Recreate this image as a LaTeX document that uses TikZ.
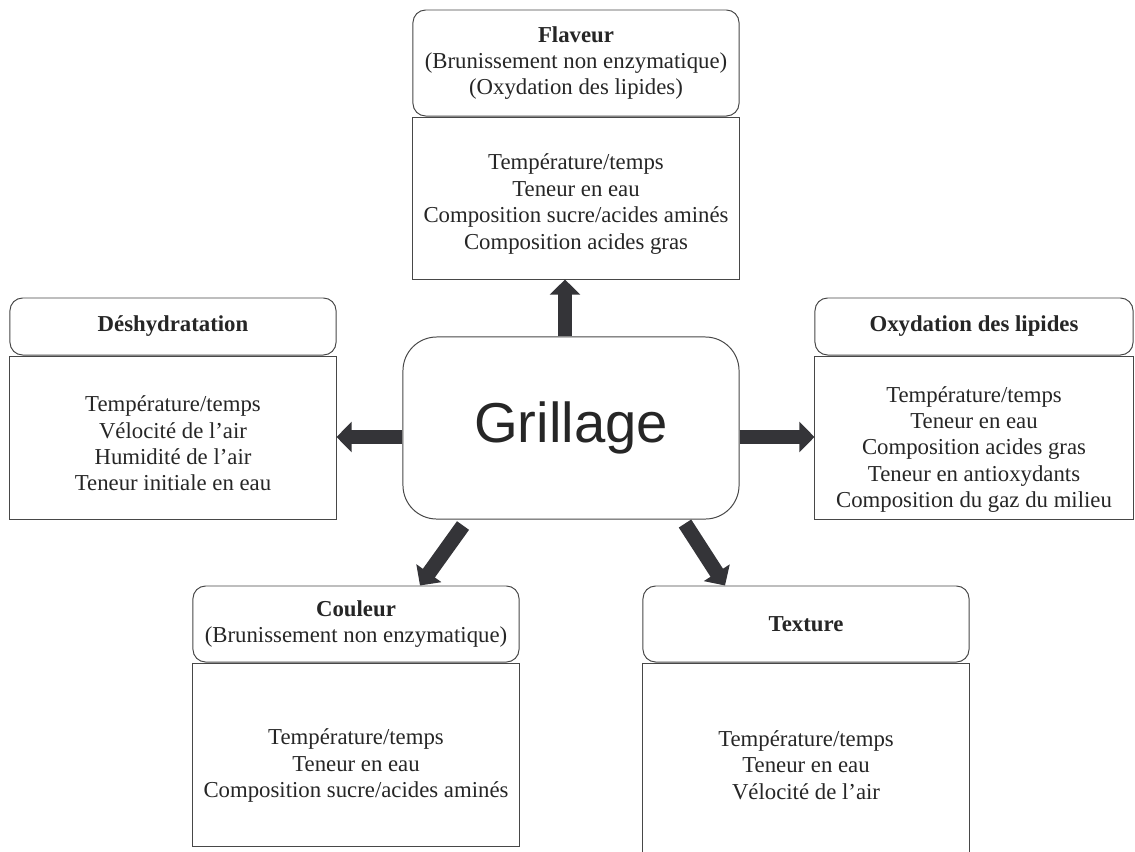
\documentclass[tikz,border=0pt]{standalone}
\usepackage{fontspec}
\setmainfont{Liberation Serif}
\newfontfamily\arialfont{Liberation Sans}
\usetikzlibrary{arrows.meta, positioning, calc}
\definecolor{DarkGray}{HTML}{343438}
\definecolor{LineGray}{HTML}{474747}

\begin{document}
\begin{tikzpicture}[
    x=0.025cm, y=-0.025cm,
    font=\fontsize{16.2}{18.8}\selectfont,
    head/.style={draw=LineGray, line width=0.7pt, rounded corners=9pt, fill=white,
        text=black!85, align=center, minimum width=8.15cm, inner sep=0pt},
    body/.style={draw=LineGray, line width=0.7pt, fill=white, minimum width=8.15cm, inner sep=0pt},
    list/.style={text=black!85, align=center, inner sep=0pt},
    bigarrow/.style={-{Triangle[width=0.75cm, length=0.38cm]}, line width=0.37cm, DarkGray},
]
\useasboundingbox (0,0) rectangle (1135,851);

% noeud central
\node[draw=LineGray, line width=0.7pt, rounded corners=24pt, fill=white, text=black!85,
      minimum width=8.4cm, minimum height=4.55cm, inner sep=0pt,
      font=\arialfont\fontsize{40}{44}\selectfont] (grill) at (571,428) {Grillage};

% Flaveur
\node[head, minimum height=2.65cm] (flavHead) at (576,63)
    {\textbf{Flaveur}\\(Brunissement non enzymatique)\\(Oxydation des lipides)};
\node[body, minimum height=4.05cm, below=0pt of flavHead] (flavBody) {};
\node[list] (flavList) at ($(flavBody.center)+(0,6)$)
    {Température/temps\\Teneur en eau\\Composition sucre/acides aminés\\Composition acides gras};

% Deshydratation
\node[head, minimum height=1.425cm] (desHead) at (173,326.5) {\textbf{Déshydratation}};
\node[body, minimum height=4.075cm, below=0pt of desHead] (desBody) {};
\node[list] (desList) at ($(desBody.center)+(0,6)$)
    {Température/temps\\Vélocité de l’air\\Humidité de l’air\\Teneur initiale en eau};

% Oxydation des lipides
\node[head, minimum width=7.95cm, minimum height=1.425cm] (oxyHead) at (974,326.5)
    {\textbf{Oxydation des lipides}};
\node[body, minimum width=7.95cm, minimum height=4.075cm, below=0pt of oxyHead] (oxyBody) {};
\node[list] (oxyList) at ($(oxyBody.center)+(0,12)$)
    {Température/temps\\Teneur en eau\\Composition acides gras\\Teneur en antioxydants\\Composition du gaz du milieu};

% Couleur
\node[head, minimum height=1.9cm] (couHead) at (356,624)
    {\textbf{Couleur}\\(Brunissement non enzymatique)};
\node[body, minimum height=4.575cm, below=0pt of couHead] (couBody) {};
\node[list] (couList) at ($(couBody.center)+(0,11)$)
    {Température/temps\\Teneur en eau\\Composition sucre/acides aminés};

% Texture
\node[head, minimum height=1.9cm] (texHead) at (806,624) {\textbf{Texture}};
\node[body, minimum height=4.85cm, below=0pt of texHead] (texBody) {};
\node[list] (texList) at ($(texBody.center)+(0,5)$)
    {Température/temps\\Teneur en eau\\Vélocité de l’air};

% points de depart des fleches
\coordinate (upStart) at ($(grill.north)+(-6,0)$);
\coordinate (leftStart) at ($(grill.west)+(0,9)$);
\coordinate (rightStart) at ($(grill.east)+(0,9)$);

% fleches
\draw[bigarrow] (upStart) -- (upStart |- flavBody.south);
\draw[bigarrow] (leftStart) -- (leftStart -| desBody.east);
\draw[bigarrow] (rightStart) -- (rightStart -| oxyBody.west);
\draw[bigarrow] ($(grill.south)+(-108,6)$) -- ($(couHead.north)+(64,0)$);
\draw[bigarrow] ($(grill.south)+(114,4)$) -- ($(texHead.north)+(-81,0)$);

\end{tikzpicture}
\end{document}
